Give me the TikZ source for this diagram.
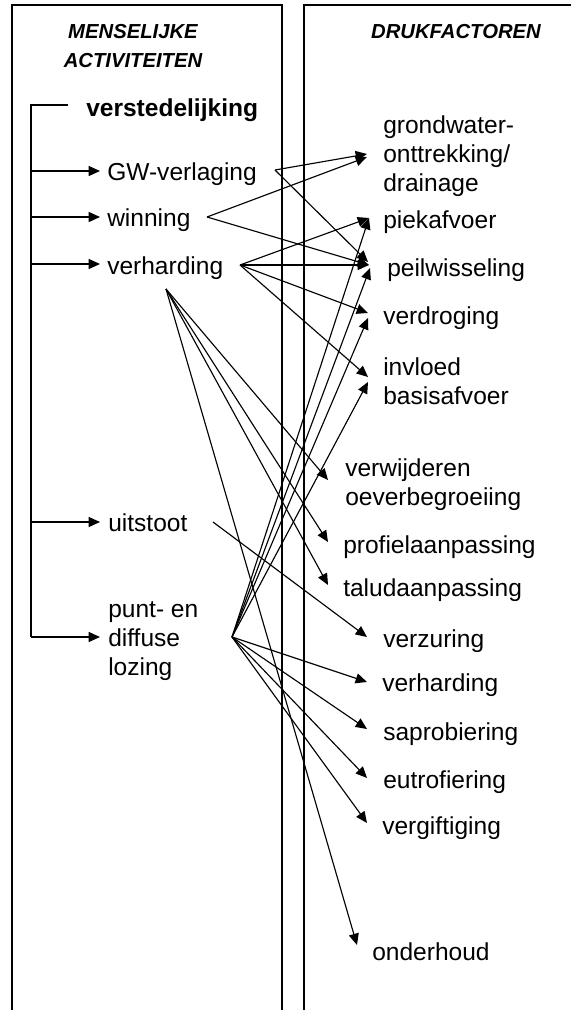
\documentclass[tikz,border=0pt]{standalone}
\usepackage{fontspec}
\setmainfont{Liberation Sans}
\usetikzlibrary{arrows.meta}
\begin{document}
\begin{tikzpicture}[x=0.75pt,y=-0.75pt,
  lbl/.style={inner sep=0pt,anchor=base west,align=left,
    font=\fontsize{18.4}{21.75}\selectfont},
  head/.style={inner sep=0pt,anchor=base,
    font=\fontsize{15.2}{21.75}\selectfont\bfseries\itshape},
  frame/.style={line width=1.2pt},
  tree/.style={line width=1pt},
  tip/.style={-{Triangle[length=8.5pt,width=7.5pt]}},
  link/.style={line width=0.85pt,tip}]
\useasboundingbox (0,0) rectangle (571,1010);

% column frames
\draw[frame] (12,1010) -- (12,5) -- (282,5) -- (282,1010);
\draw[frame] (304,1010) -- (304,5) -- (571,5);

% column headings
\node[head] (hm) at (133,38) {MENSELIJKE};
\node[head] (ha) at (133,67) {ACTIVITEITEN};
\node[head] (hd) at (456,38) {DRUKFACTOREN};

% human activities (multi-line labels are placed by their last baseline)
\node[lbl,font=\fontsize{18.4}{21.75}\selectfont\bfseries] (urb) at (86,116) {verstedelijking};
\node[lbl] (gw)   at (107,180) {GW-verlaging};
\node[lbl] (win)  at (107,226) {winning};
\node[lbl] (verh) at (107,274) {verharding};
\node[lbl] (uit)  at (108,531) {uitstoot};
\node[lbl] (loz)  at (108,675) {punt- en\\diffuse\\lozing};

% pressure factors
\node[lbl] (grw)  at (383,191) {grondwater-\\onttrekking/\\drainage};
\node[lbl] (piek) at (383,228) {piekafvoer};
\node[lbl] (peil) at (387,276) {peilwisseling};
\node[lbl] (verd) at (383,324) {verdroging};
\node[lbl] (invl) at (383,404) {invloed\\basisafvoer};
\node[lbl] (verw) at (345,505) {verwijderen\\oeverbegroeiing};
\node[lbl] (prof) at (343,553) {profielaanpassing};
\node[lbl] (talu) at (343,596) {taludaanpassing};
\node[lbl] (verz) at (383,647) {verzuring};
\node[lbl] (vhd)  at (382,691) {verharding};
\node[lbl] (sapr) at (383,740) {saprobiering};
\node[lbl] (eutr) at (383,788) {eutrofiering};
\node[lbl] (vgf)  at (382,834) {vergiftiging};
\node[lbl] (ond)  at (372,960) {onderhoud};

% tree of activities
\coordinate (t0) at (68,105);
\coordinate (t1) at (31,105);
\coordinate (t2) at (31,637);
\coordinate (b1) at (31,171);
\coordinate (b2) at (31,217);
\coordinate (b3) at (31,264);
\coordinate (b4) at (31,522);
\coordinate (b5) at (31,637);
\coordinate (e1) at (100,171);
\coordinate (e2) at (100,217);
\coordinate (e3) at (100,264);
\coordinate (e4) at (100,522);
\coordinate (e5) at (100,637);
\draw[tree] (t0) -- (t1) -- (t2);
\foreach \i in {1,...,5}
  \draw[tree,tip] (b\i) -- (e\i);

% link sources
\coordinate (gw-o)  at (275,170);
\coordinate (win-o) at (207,217);
\coordinate (vh-o)  at (240,265);
\coordinate (vh-l)  at (166,289);
\coordinate (uit-o) at (213,522);
\coordinate (loz-o) at (232,637);

% link targets
\coordinate (grw-a)  at (367,154);
\coordinate (grw-b)  at (367,157);
\coordinate (piek-a) at (369,218);
\coordinate (peil-a) at (368,262);
\coordinate (peil-b) at (369,265);
\coordinate (peil-c) at (370,268);
\coordinate (verd-a) at (368,313);
\coordinate (verd-b) at (368,318);
\coordinate (invl-a) at (368,377);
\coordinate (invl-b) at (368,382);
\coordinate (verw-i) at (328,480);
\coordinate (prof-i) at (328,542);
\coordinate (talu-i) at (328,585);
\coordinate (verz-i) at (367,637);
\coordinate (vhd-i)  at (367,682);
\coordinate (sapr-i) at (367,729);
\coordinate (eutr-i) at (367,778);
\coordinate (vgf-i)  at (367,823);
\coordinate (ond-i)  at (357,945);

% GW-verlaging and winning
\draw[link] (gw-o) -- (grw-a);
\draw[link] (gw-o) -- (peil-a);
\draw[link] (win-o) -- (grw-b);
\draw[link] (win-o) -- (peil-b);

% verharding
\draw[link] (vh-o) -- (piek-a);
\draw[link] (vh-o) -- (peil-b);
\draw[link] (vh-o) -- (verd-a);
\draw[link] (vh-o) -- (invl-a);
\draw[link] (vh-l) -- (verw-i);
\draw[link] (vh-l) -- (prof-i);
\draw[link] (vh-l) -- (talu-i);
\draw[link] (vh-l) -- (ond-i);

% uitstoot
\draw[link] (uit-o) -- (verz-i);

% punt- en diffuse lozing
\draw[link] (loz-o) -- (piek-a);
\draw[link] (loz-o) -- (peil-c);
\draw[link] (loz-o) -- (verd-b);
\draw[link] (loz-o) -- (invl-b);
\draw[link] (loz-o) -- (vhd-i);
\draw[link] (loz-o) -- (sapr-i);
\draw[link] (loz-o) -- (eutr-i);
\draw[link] (loz-o) -- (vgf-i);
\end{tikzpicture}
\end{document}
